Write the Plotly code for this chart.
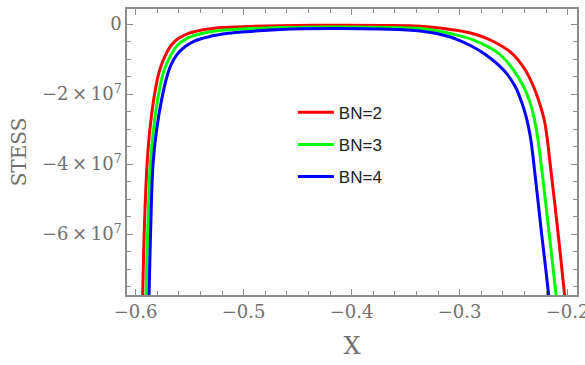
import plotly.graph_objects as go

# BN=2 (red)
x_bn2 = [-0.5940, -0.5935, -0.5920, -0.5894, -0.5869, -0.5831, -0.5790, -0.5762, -0.5723, -0.5669,
         -0.5602, -0.5509, -0.5385, -0.5231, -0.5015, -0.4660, -0.4197, -0.3734, -0.3364, -0.3086,
         -0.2901, -0.2716, -0.2515, -0.2392, -0.2315, -0.2259, -0.2216, -0.2191, -0.2169, -0.2100,
         -0.2028, -0.2017]
y_bn2 = [-8.17e7, -7.74e7, -5.886e7, -4.0e7, -3.029e7, -2.123e7, -1.457e7, -1.171e7, -8.86e6, -6.0e6,
         -4.09e6, -2.66e6, -1.71e6, -1.06e6, -7.7e5, -4.9e5, -3.7e5, -4.3e5, -6.6e5, -1.57e6,
         -2.57e6, -4.57e6, -8.37e6, -1.314e7, -1.791e7, -2.266e7, -2.743e7, -3.22e7, -3.791e7, -5.649e7,
         -7.74e7, -8.17e7]

# BN=3 (green)
x_bn3 = [-0.5908, -0.5904, -0.5888, -0.5864, -0.5835, -0.5794, -0.5750, -0.5718, -0.5673, -0.5610,
         -0.5524, -0.5417, -0.5262, -0.5015, -0.4660, -0.4197, -0.3734, -0.3364, -0.3086, -0.2870,
         -0.2639, -0.2500, -0.2407, -0.2345, -0.2306, -0.2278, -0.2253, -0.2183, -0.2107, -0.2095]
y_bn3 = [-8.17e7, -7.74e7, -5.886e7, -4.0e7, -3.029e7, -2.123e7, -1.457e7, -1.171e7, -8.86e6, -6.0e6,
         -4.09e6, -2.94e6, -2.0e6, -1.43e6, -1.0e6, -8.6e5, -9.4e5, -1.29e6, -2.71e6, -4.57e6,
         -8.37e6, -1.314e7, -1.791e7, -2.266e7, -2.743e7, -3.22e7, -3.791e7, -5.649e7, -7.74e7, -8.17e7]

# BN=4 (blue)
x_bn4 = [-0.5881, -0.5876, -0.5861, -0.5839, -0.5806, -0.5757, -0.5706, -0.5674, -0.5621, -0.5544,
         -0.5456, -0.5324, -0.5139, -0.4984, -0.4660, -0.4197, -0.3734, -0.3364, -0.3086, -0.2901,
         -0.2778, -0.2593, -0.2484, -0.2422, -0.2376, -0.2345, -0.2320, -0.2253, -0.2176, -0.2165]
y_bn4 = [-8.17e7, -7.74e7, -5.886e7, -4.0e7, -3.029e7, -2.123e7, -1.457e7, -1.171e7, -8.86e6, -6.49e6,
         -4.86e6, -3.63e6, -2.66e6, -2.2e6, -1.57e6, -1.29e6, -1.43e6, -2.0e6, -3.71e6, -6.14e6,
         -8.37e6, -1.314e7, -1.791e7, -2.266e7, -2.743e7, -3.22e7, -3.791e7, -5.649e7, -7.74e7, -8.17e7]

series_names = ["BN=2", "BN=3", "BN=4"]
series_colors = ["#ff0000", "#00ff00", "#0000ff"]

x_tickvals = [-0.6, -0.5, -0.4, -0.3, -0.2]
x_ticktext = ["\u22120.6", "\u22120.5", "\u22120.4", "\u22120.3", "\u22120.2"]
y_tickvals = [0, -2e7, -4e7, -6e7]
y_ticktext = ["0",
              "\u22122\u2009\u00d7\u200910<sup>7</sup>",
              "\u22124\u2009\u00d7\u200910<sup>7</sup>",
              "\u22126\u2009\u00d7\u200910<sup>7</sup>"]

fig = go.Figure()
for xs, ys, name, color in zip([x_bn2, x_bn3, x_bn4], [y_bn2, y_bn3, y_bn4], series_names, series_colors):
    fig.add_trace(go.Scatter(x=xs, y=ys, mode="lines", name=name, legendgroup=name,
                             line=dict(color=color, width=3, shape="spline", smoothing=1.0, simplify=False)))

serif = "DejaVu Serif, Liberation Serif, serif"
axis_common = dict(showline=True, linecolor="#8c8c8c", linewidth=1.5, mirror="allticks",
                   ticks="inside", tickcolor="#8c8c8c", tickwidth=1, ticklen=6,
                   showgrid=False, zeroline=False, automargin=False,
                   tickfont=dict(family=serif, size=18, color="#707070"))

fig.update_xaxes(range=[-0.608, -0.1913], tickvals=x_tickvals, ticktext=x_ticktext,
                 ticklabeloverflow="allow",
                 minor=dict(dtick=0.02, tick0=-0.6, ticks="inside", ticklen=4, tickcolor="#8c8c8c"),
                 title=dict(text="X", font=dict(family=serif, size=24, color="#707070"), standoff=16),
                 **axis_common)
fig.update_yaxes(range=[-7.74e7, 4.29e6], tickvals=y_tickvals, ticktext=y_ticktext,
                 minor=dict(dtick=5e6, tick0=0, ticks="inside", ticklen=4, tickcolor="#8c8c8c"),
                 title=dict(text="STESS", font=dict(family=serif, size=20, color="#707070"), standoff=10),
                 **axis_common)

fig.update_layout(width=585, height=365, margin=dict(l=127, r=8, t=9, b=70),
                  plot_bgcolor="white", paper_bgcolor="white",
                  legend=dict(x=0.3686, y=0.70, xanchor="left", yanchor="top", bgcolor="rgba(0,0,0,0)",
                              font=dict(family="Liberation Sans", size=17, color="#222"),
                              tracegroupgap=7, itemwidth=36))

fig.write_html("out.html")
